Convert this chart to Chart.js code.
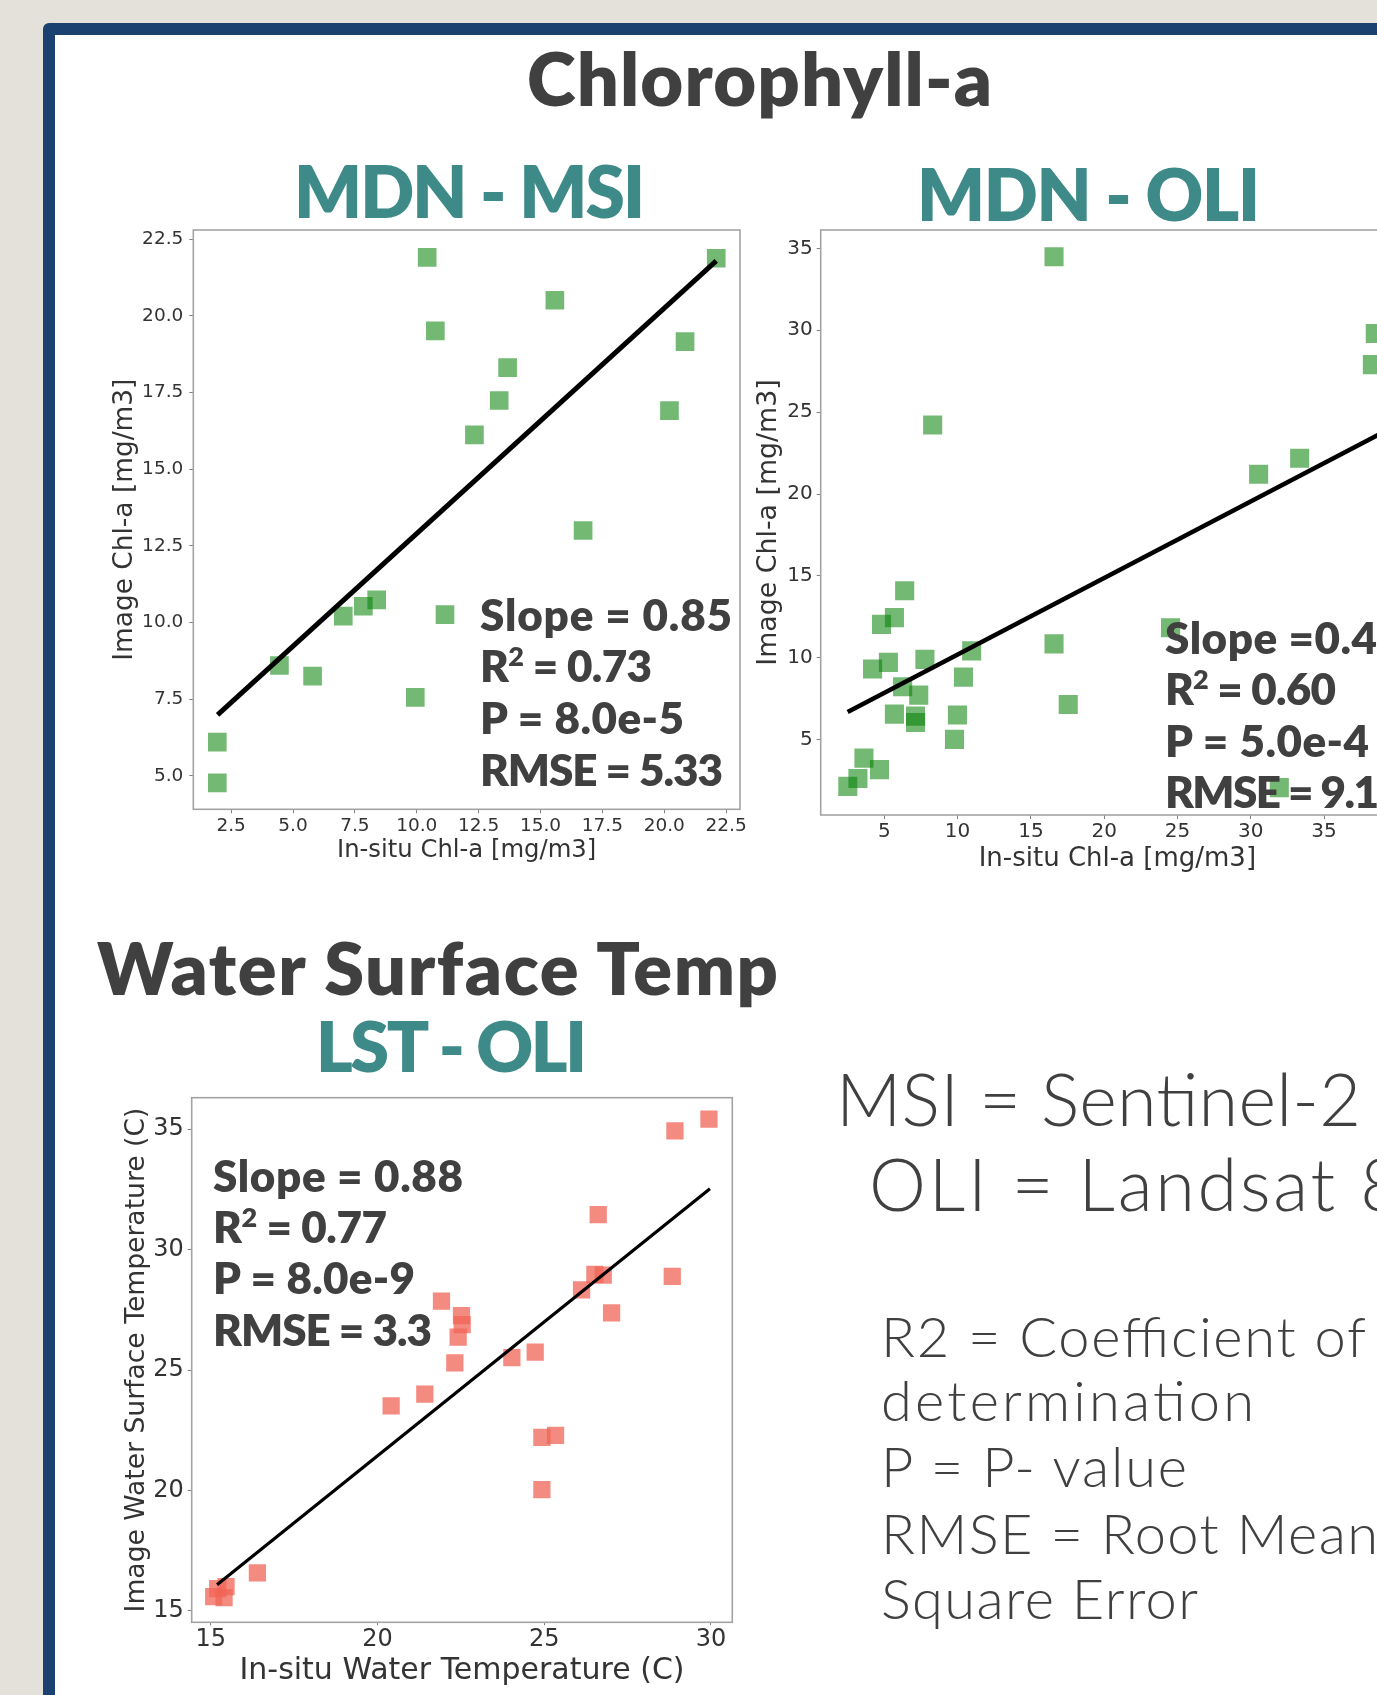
<!DOCTYPE html>
<html>
<head>
<meta charset="utf-8">
<script src="https://cdn.jsdelivr.net/npm/chart.js@4.4.1/dist/chart.umd.min.js"></script>
<style>
  html, body { margin: 0; padding: 0; }
  body { width: 1377px; height: 1695px; overflow: hidden; position: relative; background: #e4e0da; }
  #frame { position: absolute; left: 43px; top: 23px; width: 1400px; height: 1700px; background: #1b4170; border-radius: 6px; }
  #sheet { position: absolute; left: 55px; top: 35px; width: 1400px; height: 1700px; background: #fff; }
  canvas { position: absolute; }
  #txt { position: absolute; left: 0; top: 0; pointer-events: none; }
  #txt text { font-family: Lato, "Open Sans", sans-serif; fill: #404040; font-weight: 300; }
  #txt .b { font-weight: 800; }
  #txt .teal { fill: #3e8a88; }
</style>
</head>
<body>
<div id="frame"></div>
<div id="sheet"></div>
<canvas id="c-msi" width="665" height="672" style="left:100px;top:208px"></canvas>
<canvas id="c-oli" width="704" height="692" style="left:730px;top:208px"></canvas>
<canvas id="c-lst" width="660" height="619" style="left:100px;top:1076px"></canvas>

<svg id="txt" width="1377" height="1695">
  <text class="b" x="527" y="106" font-size="74" textLength="465" lengthAdjust="spacing">Chlorophyll-a</text>
  <text class="b teal" x="294" y="218" font-size="71" textLength="351" lengthAdjust="spacing">MDN - MSI</text>
  <text class="b teal" x="917" y="221" font-size="71" textLength="343" lengthAdjust="spacing">MDN - OLI</text>
  <text class="b" x="97" y="995" font-size="72" textLength="681" lengthAdjust="spacing">Water Surface Temp</text>
  <text class="b teal" x="316" y="1072" font-size="70" textLength="271" lengthAdjust="spacing">LST - OLI</text>

  <text x="836" y="1126" font-size="72" textLength="525" lengthAdjust="spacing">MSI = Sentinel-2</text>
  <text x="869" y="1211" font-size="72" textLength="533" lengthAdjust="spacing">OLI = Landsat 8</text>
  <text x="881" y="1357" font-size="56" textLength="485" lengthAdjust="spacing">R2 = Coefficient of</text>
  <text x="881" y="1421" font-size="56" textLength="373" lengthAdjust="spacing">determination</text>
  <text x="881" y="1487" font-size="56" textLength="306" lengthAdjust="spacing">P = P- value</text>
  <text x="881" y="1554" font-size="56" textLength="497" lengthAdjust="spacing">RMSE = Root Mean</text>
  <text x="881" y="1619" font-size="56" textLength="317" lengthAdjust="spacing">Square Error</text>

  <!-- MDN - MSI stats -->
  <text class="b" x="480" y="631" font-size="44" textLength="252" lengthAdjust="spacing">Slope = 0.85</text>
  <text class="b" x="480" y="682" font-size="44" textLength="172" lengthAdjust="spacing">R<tspan font-size="27" dy="-16">2</tspan><tspan dy="16"> = 0.73</tspan></text>
  <text class="b" x="480" y="734" font-size="44" textLength="204" lengthAdjust="spacing">P = 8.0e-5</text>
  <text class="b" x="480" y="786" font-size="44" textLength="243" lengthAdjust="spacing">RMSE = 5.33</text>

  <!-- MDN - OLI stats (cut by the page edge) -->
  <text class="b" x="1165" y="654" font-size="44" textLength="212" lengthAdjust="spacing">Slope =0.4</text>
  <text class="b" x="1165" y="705" font-size="44" textLength="171" lengthAdjust="spacing">R<tspan font-size="27" dy="-16">2</tspan><tspan dy="16"> = 0.60</tspan></text>
  <text class="b" x="1165" y="757" font-size="44" textLength="204" lengthAdjust="spacing">P = 5.0e-4</text>
  <text class="b" x="1165" y="808" font-size="44" textLength="214" lengthAdjust="spacing">RMSE = 9.1</text>

  <!-- LST - OLI stats -->
  <text class="b" x="213" y="1192" font-size="44" textLength="250" lengthAdjust="spacing">Slope = 0.88</text>
  <text class="b" x="213" y="1243" font-size="44" textLength="174" lengthAdjust="spacing">R<tspan font-size="27" dy="-16">2</tspan><tspan dy="16"> = 0.77</tspan></text>
  <text class="b" x="213" y="1294" font-size="44" textLength="202" lengthAdjust="spacing">P = 8.0e-9</text>
  <text class="b" x="213" y="1346" font-size="44" textLength="219" lengthAdjust="spacing">RMSE = 3.3</text>
</svg>

<script>
// MDN - MSI (chlorophyll-a, Sentinel-2)
const msiInsitu = [1.94, 1.94, 4.45, 5.79, 7.03, 7.84, 8.38, 9.94, 11.14, 10.42, 10.75, 12.33, 13.33, 13.67, 15.58, 16.72, 20.21, 20.84, 22.1];
const msiImage  = [6.1, 4.77, 8.6, 8.25, 10.21, 10.53, 10.74, 7.56, 10.26, 21.91, 19.51, 16.12, 17.24, 18.31, 20.51, 13.0, 16.91, 19.16, 21.88];
const msiFitX = [1.95, 22.1];
const msiFitY = [6.99, 21.79];
const msiTicksX = [2.5, 5, 7.5, 10, 12.5, 15, 17.5, 20, 22.5];
const msiTicksY = [5, 7.5, 10, 12.5, 15, 17.5, 20, 22.5];

// MDN - OLI (chlorophyll-a, Landsat 8)
const oliInsitu = [16.58, 8.3, 6.39, 5.69, 4.81, 5.28, 4.2, 7.77, 6.25, 7.35, 5.69, 7.13, 7.13, 10.96, 10.4, 9.99, 9.79, 3.61, 4.67, 3.2, 2.51, 16.58, 17.55, 24.53, 30.54, 33.34, 31.95, 38.3, 38.5];
const oliImage  = [34.49, 24.21, 14.09, 12.45, 12.04, 9.72, 9.31, 9.9, 8.23, 7.72, 6.56, 6.44, 6.05, 10.42, 8.82, 6.51, 5.02, 3.87, 3.17, 2.63, 2.15, 10.85, 7.15, 11.83, 21.21, 22.18, 2.07, 27.9, 29.8];
const oliFitX = [2.5, 39.3];
const oliFitY = [6.69, 23.9];
const oliTicksX = [5, 10, 15, 20, 25, 30, 35, 40];
const oliTicksY = [5, 10, 15, 20, 25, 30, 35];

// LST - OLI (water surface temperature)
const lstInsitu = [29.94, 28.92, 26.62, 28.84, 26.52, 26.77, 26.12, 27.02, 21.92, 22.52, 22.54, 22.42, 22.32, 24.03, 24.73, 21.42, 20.41, 24.93, 25.34, 24.93, 16.4, 15.21, 15.4, 15.09, 15.46];
const lstImage  = [35.41, 34.92, 31.45, 28.89, 28.97, 28.94, 28.32, 27.37, 27.86, 27.26, 26.88, 26.36, 25.3, 25.51, 25.74, 24.0, 23.51, 22.2, 22.29, 20.04, 16.58, 15.93, 15.55, 15.6, 16.01];
const lstFitX = [15.19, 29.97];
const lstFitY = [16.09, 32.52];
const lstTicksX = [15, 20, 25, 30];
const lstTicksY = [15, 20, 25, 30, 35];

const pts = (xs, ys) => xs.map((x, i) => ({ x, y: ys[i] }));

// box round the plot area, like the matplotlib spines
const boxPlugin = {
  id: "box",
  beforeDatasetsDraw(chart) {
    const a = chart.chartArea, ctx = chart.ctx;
    ctx.save();
    ctx.strokeStyle = "#a3a3a3";
    ctx.lineWidth = 1.6;
    ctx.strokeRect(a.left, a.top, a.right - a.left, a.bottom - a.top);
    ctx.restore();
  }
};

function axis(o) {
  return {
    type: "linear",
    min: o.min, max: o.max,
    afterBuildTicks: (s) => { s.ticks = o.ticks.map(v => ({ value: v })); },
    afterFit: (s) => { if (s.isHorizontal()) s.height = o.size; else s.width = o.size; },
    ticks: {
      autoSkip: false, maxRotation: 0, padding: o.pad, color: "#333",
      font: { family: "DejaVu Sans", size: o.font },
      callback: (v) => o.digits ? Number(v).toFixed(o.digits) : String(v)
    },
    grid: { drawOnChartArea: false, drawTicks: true, tickLength: o.tick, tickColor: "#808080", tickWidth: 1 },
    border: { display: false },
    title: {
      display: true, text: o.title, color: "#333",
      font: { family: "DejaVu Sans", size: o.titleFont },
      padding: o.titlePad
    }
  };
}

function makeScatter(id, data, fit, look, xAxis, yAxis) {
  const ctx = document.getElementById(id).getContext("2d");
  return new Chart(ctx, {
    type: "scatter",
    data: {
      datasets: [
        { type: "line", data: fit, borderColor: "#000", borderWidth: look.lineWidth, pointRadius: 0, fill: false, tension: 0 },
        { data: data, pointStyle: "rect", pointRadius: look.radius, backgroundColor: look.colour, borderWidth: 0, pointHoverRadius: look.radius }
      ]
    },
    options: {
      responsive: false,
      animation: false,
      devicePixelRatio: 1,
      layout: { padding: look.padding },
      plugins: { legend: { display: false }, tooltip: { enabled: false } },
      scales: { x: axis(xAxis), y: axis(yAxis) }
    },
    plugins: [boxPlugin]
  });
}

const GREEN = "rgba(0,128,0,0.55)";
const SALMON = "rgba(240,100,85,0.75)";

makeScatter("c-msi", pts(msiInsitu, msiImage), pts(msiFitX, msiFitY),
  { lineWidth: 5, radius: 13.2, colour: GREEN, padding: { top: 22, right: 25, left: 0, bottom: 0 } },
  { min: 0.97, max: 23.06, ticks: msiTicksX, digits: 1, size: 70.7, pad: 2, tick: 4, font: 18.5,
    title: "In-situ Chl-a [mg/m3]", titleFont: 24.3, titlePad: { top: 0, bottom: 14.6 } },
  { min: 3.91, max: 22.8, ticks: msiTicksY, digits: 1, size: 93.3, pad: 6, tick: 4, font: 18.5,
    title: "Image Chl-a [mg/m3]", titleFont: 26.4, titlePad: { top: 9.7, bottom: 0 } });

makeScatter("c-oli", pts(oliInsitu, oliImage), pts(oliFitX, oliFitY),
  { lineWidth: 4.5, radius: 13.5, colour: GREEN, padding: { top: 22, right: 20, left: 0, bottom: 0 } },
  { min: 0.66, max: 41.14, ticks: oliTicksX, digits: 0, size: 85, pad: 1, tick: 4, font: 20,
    title: "In-situ Chl-a [mg/m3]", titleFont: 26, titlePad: { top: 0, bottom: 24.8 } },
  { min: 0.4, max: 36.12, ticks: oliTicksY, digits: 0, size: 90.7, pad: 4, tick: 4, font: 20,
    title: "Image Chl-a [mg/m3]", titleFont: 26.8, titlePad: { top: 22.9, bottom: 0 } });

makeScatter("c-lst", pts(lstInsitu, lstImage), pts(lstFitX, lstFitY),
  { lineWidth: 3.2, radius: 12.2, colour: SALMON, padding: { top: 21.7, right: 27.7, left: 0, bottom: 0 } },
  { min: 14.43, max: 30.64, ticks: lstTicksX, digits: 0, size: 72.7, pad: 0, tick: 3, font: 24,
    title: "In-situ Water Temperature (C)", titleFont: 30, titlePad: { top: 0, bottom: 6 } },
  { min: 14.53, max: 36.3, ticks: lstTicksY, digits: 0, size: 91.7, pad: 4, tick: 4, font: 24,
    title: "Image Water Surface Temperature (C)", titleFont: 26.6, titlePad: { top: 21, bottom: 0 } });
</script>
</body>
</html>
